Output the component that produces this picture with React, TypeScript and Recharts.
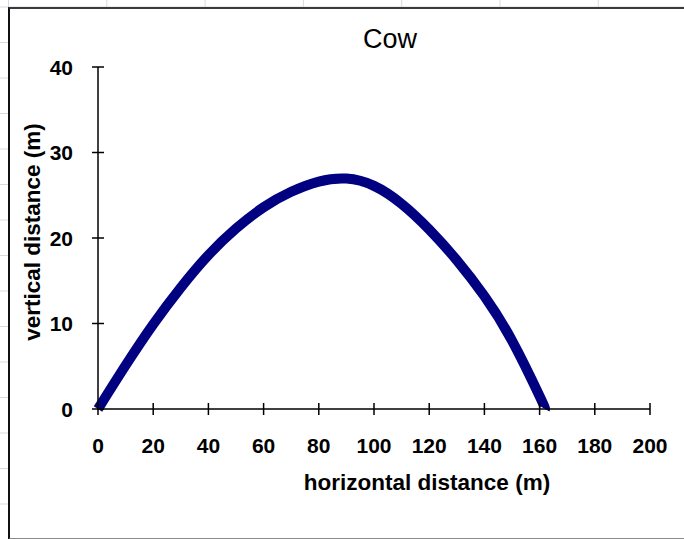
// App.tsx
import React from 'react'
import { LineChart, Line, XAxis, YAxis } from 'recharts'

// trajectory
const distances = [0, 10, 20, 30, 40, 50, 60, 70, 80, 90, 100, 110, 120, 130, 140, 150, 160, 162]
const heights = [0, 5.1, 9.9, 14.2, 18.0, 21.1, 23.6, 25.4, 26.6, 26.95, 26.1, 24.0, 21.0, 17.4, 13.2, 8.0, 1.5, 0]

const xTicks = [0, 20, 40, 60, 80, 100, 120, 140, 160, 180, 200]
const yTicks = [0, 10, 20, 30, 40]

const chartTitle = 'Cow'
const xTitle = 'horizontal distance (m)'
const yTitle = 'vertical distance (m)'

const data = distances.map((x, i) => ({ x, y: heights[i] }))

const FONT = '"Liberation Sans", Arial, sans-serif'

const XTick = (props: any) => {
  const { x, y, payload } = props
  return (
    <g>
      <line x1={x} x2={x} y1={y - 6} y2={y + 6} stroke="#000" strokeWidth={1.5} />
      <text x={x} y={y + 44} textAnchor="middle" fontFamily={FONT} fontWeight="bold" fontSize={21} fill="#000">
        {payload.value}
      </text>
    </g>
  )
}

const YTick = (props: any) => {
  const { x, y, payload } = props
  return (
    <g>
      <line x1={x - 6} x2={x + 6} y1={y} y2={y} stroke="#000" strokeWidth={1.5} />
      <text x={x - 25} y={y} dy="0.36em" textAnchor="end" fontFamily={FONT} fontWeight="bold" fontSize={21} fill="#000">
        {payload.value}
      </text>
    </g>
  )
}

const App: React.FC = () => (
  <div
    style={{
      position: 'absolute',
      left: 0,
      top: 0,
      width: 684,
      height: 539,
      overflow: 'hidden',
      background: '#fff',
      backgroundImage:
        'linear-gradient(to right, #d4dae4 1px, transparent 1px), linear-gradient(to bottom, #d4dae4 1px, transparent 1px)',
      backgroundSize: '98.3px 35.5px',
      backgroundPosition: '8px 6.5px',
    }}
  >
    {/* chart frame */}
    <div
      style={{
        position: 'absolute',
        left: 8,
        top: 7,
        width: 674,
        height: 529,
        background: '#fff',
        borderTop: '2px solid #3a3a3a',
        borderLeft: '2px solid #111',
        borderRight: '1px solid #c4c4c4',
        borderBottom: '2px solid #8a8a8a',
      }}
    />
    <div
      style={{
        position: 'absolute',
        left: 290,
        top: 24,
        width: 200,
        textAlign: 'center',
        fontFamily: FONT,
        fontSize: 27,
        color: '#000',
      }}
    >
      {chartTitle}
    </div>
    <div style={{ position: 'absolute', left: 0, top: 0 }}>
      <LineChart width={684} height={539} data={data} margin={{ top: 67, right: 34, bottom: 0, left: 0 }}>
        <XAxis
          dataKey="x"
          type="number"
          domain={[0, 200]}
          ticks={xTicks}
          interval={0}
          height={130}
          tickSize={0}
          tickMargin={0}
          tickLine={false}
          tick={<XTick />}
          axisLine={{ stroke: '#000', strokeWidth: 1.5 }}
          label={(p: any) => {
            const vb = p.viewBox
            return (
              <text
                x={vb.x + vb.width / 2 + 53}
                y={vb.y + 81}
                textAnchor="middle"
                fontFamily={FONT}
                fontWeight="bold"
                fontSize={22.5}
                fill="#000"
              >
                {xTitle}
              </text>
            )
          }}
        />
        <YAxis
          type="number"
          domain={[0, 40]}
          ticks={yTicks}
          interval={0}
          width={98}
          tickSize={0}
          tickMargin={0}
          tickLine={false}
          tick={<YTick />}
          axisLine={{ stroke: '#000', strokeWidth: 1.5 }}
          label={(p: any) => {
            const vb = p.viewBox
            const cx = vb.x + 32
            const cy = vb.y + vb.height / 2 - 6
            return (
              <text
                x={cx}
                y={cy}
                transform={`rotate(-90 ${cx} ${cy})`}
                textAnchor="middle"
                dominantBaseline="central"
                fontFamily={FONT}
                fontWeight="bold"
                fontSize={22.5}
                fill="#000"
              >
                {yTitle}
              </text>
            )
          }}
        />
        <Line
          type="natural"
          dataKey="y"
          stroke="#000080"
          strokeWidth={10}
          dot={false}
          activeDot={false}
          isAnimationActive={false}
        />
      </LineChart>
    </div>
  </div>
)

export default App
